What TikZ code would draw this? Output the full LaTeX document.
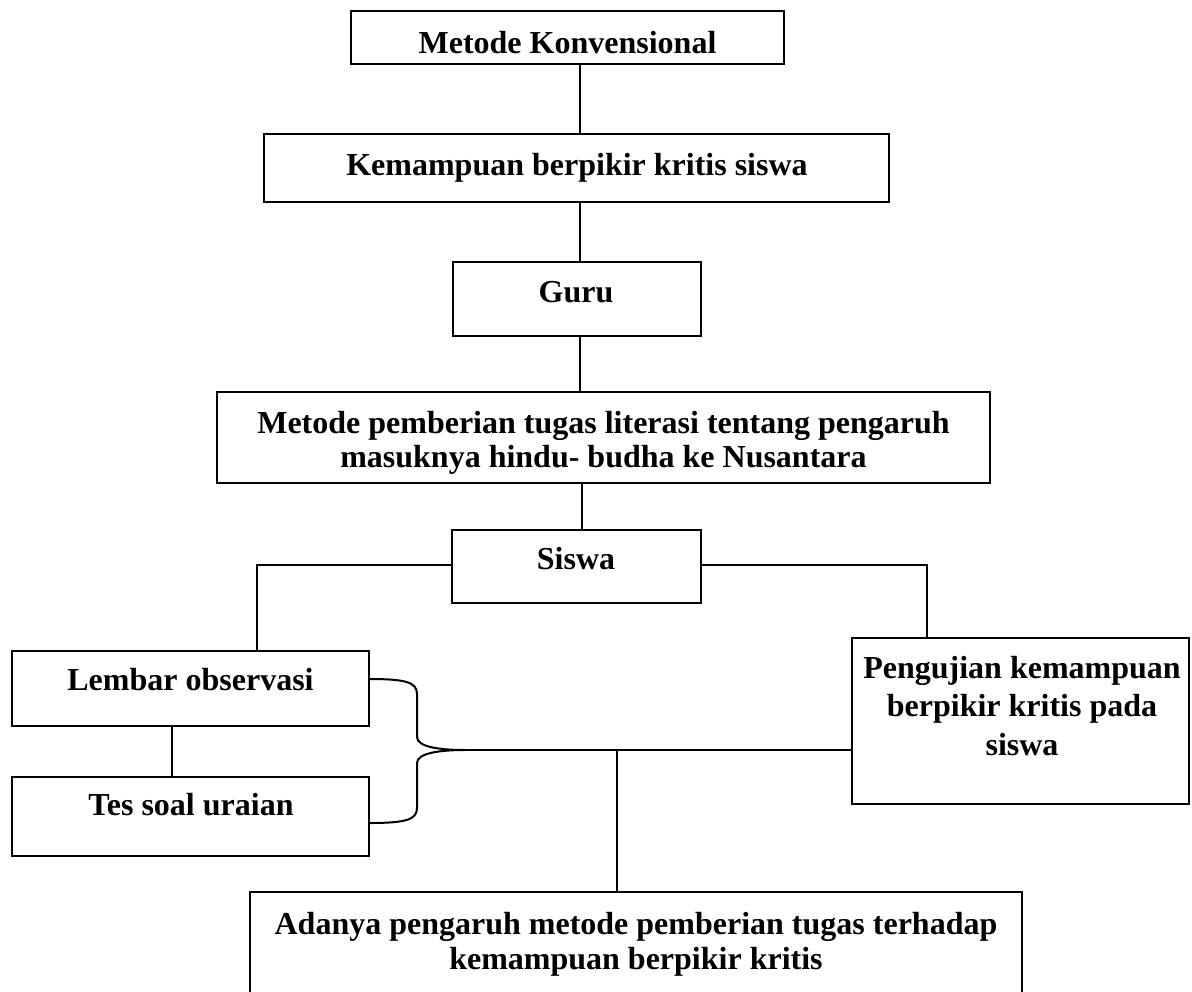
\documentclass[tikz,border=0pt]{standalone}
\usepackage{fontspec}
\setmainfont{Liberation Serif}
\usetikzlibrary{calc}
\begin{document}
\begin{tikzpicture}[x=0.5pt,y=-0.5pt, line width=1pt,
  box/.style={draw, inner sep=0pt, outer sep=0pt},
  lbl/.style={font=\bfseries\fontsize{16}{17}\selectfont, inner sep=0pt, anchor=base, align=center}]
\useasboundingbox (0,0) rectangle (1192,991);
% boxes
\node[box, minimum width=216.5pt, minimum height=26.5pt] (mk) at (567.5,37.5) {};
\node[box, minimum width=312.5pt, minimum height=34pt] (k) at (576.5,168) {};
\node[box, minimum width=124pt, minimum height=37pt] (g) at (577,299) {};
\node[box, minimum width=386.5pt, minimum height=45.5pt] (mp) at (603.5,437.5) {};
\node[box, minimum width=124.5pt, minimum height=36.5pt] (s) at (576.5,566.5) {};
\node[box, minimum width=178.5pt, minimum height=37.5pt] (l) at (190.5,688.5) {};
\node[box, minimum width=178.5pt, minimum height=39.5pt] (t) at (190.5,816.5) {};
\node[box, minimum width=168.5pt, minimum height=83pt] (p) at (1020.5,721) {};
\node[box, minimum width=386pt, minimum height=54pt] (a) at (636,946) {};
% texts (anchor base = baseline of the last line)
\node[lbl] (mkt) at (567.5,53) {Metode Konvensional};
\node[lbl] (kt) at (577,175) {Kemampuan berpikir kritis siswa};
\node[lbl] (gt) at (576,302) {Guru};
\node[lbl] (mpt) at (603.5,467) {Metode pemberian tugas literasi tentang pengaruh\\masuknya hindu- budha ke Nusantara};
\node[lbl] (st) at (576,569) {Siswa};
\node[lbl] (lt) at (190.5,690) {Lembar observasi};
\node[lbl] (tt) at (191,815) {Tes soal uraian};
\node[lbl, font=\bfseries\fontsize{16}{19.25}\selectfont] (pt) at (1022,755) {Pengujian kemampuan\\berpikir kritis pada\\siswa};
\node[lbl, font=\bfseries\fontsize{16}{17.5}\selectfont] (at) at (636,969) {Adanya pengaruh metode pemberian tugas terhadap\\kemampuan berpikir kritis};
% connectors
\coordinate (spine) at (580,0);
\coordinate (spine2) at (582,0);
\coordinate (lx) at (257,0);
\coordinate (rx) at (927,0);
\coordinate (mx) at (172,0);
\coordinate (tip) at (465,750);
\coordinate (jn) at (617,750);
\draw (mk.south -| spine) -- (k.north -| spine);
\draw (k.south -| spine) -- (g.north -| spine);
\draw (g.south -| spine) -- (mp.north -| spine);
\draw (mp.south -| spine2) -- (s.north -| spine2);
\draw ($(s.west)+(0,-1.5)$) -| (l.north -| lx);
\draw ($(s.east)+(0,-1.5)$) -| (p.north -| rx);
\draw (l.south -| mx) -- (t.north -| mx);
\draw ($(l.east)+(0,-9.5)$) .. controls +(36,0) and +(0,-12) .. (417,694) -- (417,737)
  .. controls +(0,10) and +(-25,0) .. (tip)
  .. controls +(-25,0) and +(0,-10) .. (417,763) -- (417,808)
  .. controls +(0,12) and +(36,0) .. ($(t.east)+(0,6.5)$);
\draw (tip) -- (tip -| p.west);
\draw (jn) -- (jn |- a.north);
\end{tikzpicture}
\end{document}
